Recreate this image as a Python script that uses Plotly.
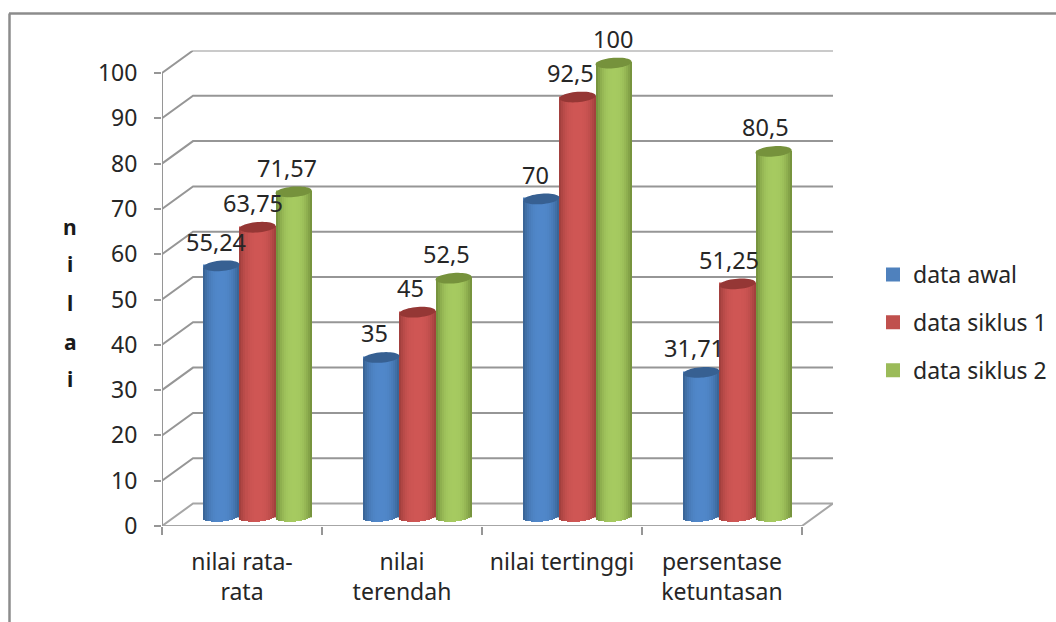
import math
import plotly.graph_objects as go

# Chart data
categories = ["nilai rata-<br>rata", "nilai<br>terendah", "nilai tertinggi", "persentase<br>ketuntasan"]
series_names = ["data awal", "data siklus 1", "data siklus 2"]
data_awal = [55.24, 35, 70, 31.71]
data_siklus_1 = [63.75, 45, 92.5, 51.25]
data_siklus_2 = [71.57, 52.5, 100, 80.5]
label_awal = ["55,24", "35", "70", "31,71"]
label_siklus_1 = ["63,75", "45", "92,5", "51,25"]
label_siklus_2 = ["71,57", "52,5", "100", "80,5"]
y_ticks = [0, 10, 20, 30, 40, 50, 60, 70, 80, 90, 100]
axis_title_letters = ["n", "i", "l", "a", "i"]

# Per-series styling: centre colour, edge colour, cap colour, legend colour
centre_colors = ["#5087CA", "#CF5654", "#A6CA60"]
edge_colors = ["#36608F", "#9C3C3A", "#6F8B39"]
cap_colors = ["#376092", "#953735", "#76923C"]
flat_colors = ["#4F81BD", "#C0504D", "#9BBB59"]
# Sideways nudges of the value labels, in pixels
label_dx = [[-5, -7, -6, -7], [-5, -7, -7, -8], [-7, -7, -1, -8]]

W, H = 1056, 622
PLOT_LEFT, PLOT_RIGHT, PLOT_TOP, PLOT_BOTTOM = 162, 833, 50.5, 526
FONT = "Noto Sans"
TEXT = "#262626"
GRID = "#969696"

# Oblique projection: depth runs up and to the right, in axis units
DEPTH_X, DEPTH_Y = 0.194, 4.97
MID_X, MID_Y = DEPTH_X / 2, 2.2
CYL_W = 0.2254
CAP_B, CAP_TILT = 1.15, 0.3
N_STRIPS = 18


def hex_rgb(c):
    return tuple(int(c[i:i + 2], 16) for i in (1, 3, 5))


def blend(a, b, t):
    ra, rb = hex_rgb(a), hex_rgb(b)
    return "rgb(%d,%d,%d)" % tuple(round(p + (q - p) * t) for p, q in zip(ra, rb))


def centre_x(cat, ser):
    return cat + 0.5 + MID_X + (ser - 1) * CYL_W


fig = go.Figure()
series_values = [data_awal, data_siklus_1, data_siklus_2]
series_labels = [label_awal, label_siklus_1, label_siklus_2]

# Flat bar for each series carries the values and the legend entry
for s, values in enumerate(series_values):
    fig.add_trace(go.Bar(
        x=[centre_x(c, s) for c in range(len(categories))],
        y=values,
        base=MID_Y,
        width=CYL_W - 0.0125,
        name=series_names[s],
        legendgroup=series_names[s],
        marker=dict(color=flat_colors[s], line=dict(color=flat_colors[s], width=2)),
        hoverinfo="skip",
    ))

# Narrow strips on top give each bar its rounded shading and curved foot
for s, values in enumerate(series_values):
    for k in range(N_STRIPS):
        u = (k + 0.5) / N_STRIPS * 2 - 1
        foot = MID_Y - CAP_B * math.sqrt(1 - u * u) + CAP_TILT * u
        top = [MID_Y + v + CAP_TILT * u for v in values]
        shade = abs(u) ** 2.6
        fig.add_trace(go.Bar(
            x=[centre_x(c, s) + u * CYL_W / 2 for c in range(len(categories))],
            y=[t - foot for t in top],
            base=foot,
            width=CYL_W / N_STRIPS,
            marker=dict(color=blend(centre_colors[s], edge_colors[s], shade), line=dict(width=0)),
            showlegend=False,
            hoverinfo="skip",
        ))

shapes = []


def line_shape(points, color=GRID, width=2, layer="below"):
    path = "M " + " L ".join(f"{x},{y}" for x, y in points)
    shapes.append(dict(type="path", path=path, xref="x", yref="y", layer=layer,
                       line=dict(color=color, width=width)))


# Back wall and side wall grid lines
n_cat = len(categories)
for v in y_ticks[1:]:
    line_shape([(0, v), (DEPTH_X, v + DEPTH_Y), (n_cat + DEPTH_X, v + DEPTH_Y)])
# Floor outline and the front axes
line_shape([(0, 0), (DEPTH_X, DEPTH_Y), (n_cat + DEPTH_X, DEPTH_Y), (n_cat, 0), (0, 0)], color="#A6A6A6")
line_shape([(0, 0), (0, y_ticks[-1])])

# Elliptical caps, slightly tilted
for s, values in enumerate(series_values):
    for c, v in enumerate(values):
        pts = []
        for i in range(48):
            t = 2 * math.pi * i / 48
            pts.append((centre_x(c, s) + CYL_W / 2 * math.cos(t),
                        MID_Y + v + CAP_B * math.sin(t) + CAP_TILT * math.cos(t)))
        path = "M " + " L ".join(f"{x:.4f},{y:.4f}" for x, y in pts) + " Z"
        shapes.append(dict(type="path", path=path, xref="x", yref="y", layer="above",
                           fillcolor=cap_colors[s], line=dict(width=0)))

# Outer frame: top and left edges, the others run off the page
shapes.append(dict(type="line", xref="paper", yref="paper", x0=9 / W, x1=1, y0=1 - 13.5 / H, y1=1 - 13.5 / H,
                   line=dict(color="#8C8C8C", width=2.5)))
shapes.append(dict(type="line", xref="paper", yref="paper", x0=9.5 / W, x1=9.5 / W, y0=0, y1=1 - 13.5 / H,
                   line=dict(color="#8C8C8C", width=2.5)))

annotations = []
# Value labels above each cap
for s, values in enumerate(series_values):
    for c, v in enumerate(values):
        annotations.append(dict(
            x=centre_x(c, s), y=MID_Y + v, xref="x", yref="y",
            text=series_labels[s][c], showarrow=False,
            xanchor="center", yanchor="middle",
            xshift=label_dx[s][c], yshift=24,
            font=dict(family=FONT, size=23.5, color=TEXT),
        ))
# Axis title written one letter per line
for letter, py in zip(axis_title_letters, [227, 264, 303, 342, 379]):
    annotations.append(dict(
        x=70 / W, y=1 - py / H, xref="paper", yref="paper",
        text=f"<b>{letter}</b>", showarrow=False,
        xanchor="center", yanchor="middle",
        font=dict(family=FONT, size=21, color="#1a1a1a"),
    ))

fig.update_layout(
    width=W, height=H, autosize=False,
    margin=dict(l=0, r=0, t=0, b=0),
    paper_bgcolor="white", plot_bgcolor="white",
    barmode="overlay",
    bargap=0,
    shapes=shapes,
    annotations=annotations,
    font=dict(family=FONT, size=22, color=TEXT),
    hovermode=False,
    legend=dict(
        x=873 / W, y=1 - 253 / H, xanchor="left", yanchor="top",
        bgcolor="rgba(0,0,0,0)", borderwidth=0,
        tracegroupgap=15, itemwidth=30,
        font=dict(family=FONT, size=23, color=TEXT),
    ),
    xaxis=dict(
        domain=[PLOT_LEFT / W, PLOT_RIGHT / W],
        range=[0, n_cat + DEPTH_X],
        automargin=False,
        tickmode="array",
        tickvals=[c + 0.5 for c in range(n_cat)],
        ticktext=categories,
        ticks="",
        showgrid=False, zeroline=False, showline=False,
        minor=dict(tickmode="array", tickvals=list(range(n_cat + 1)), ticks="outside",
                   ticklen=8, tickwidth=2, tickcolor=GRID, showgrid=False),
        tickfont=dict(family=FONT, size=23, color=TEXT),
        ticklabelstandoff=20,
    ),
    yaxis=dict(
        domain=[1 - PLOT_BOTTOM / H, 1 - PLOT_TOP / H],
        range=[0, y_ticks[-1] + DEPTH_Y],
        automargin=False,
        tickmode="array",
        tickvals=y_ticks,
        ticks="outside", ticklen=7, tickwidth=2, tickcolor=GRID,
        showgrid=False, zeroline=False, showline=False,
        tickfont=dict(family=FONT, size=23, color=TEXT),
        ticklabelstandoff=12,
    ),
)

fig.write_html("out.html")
